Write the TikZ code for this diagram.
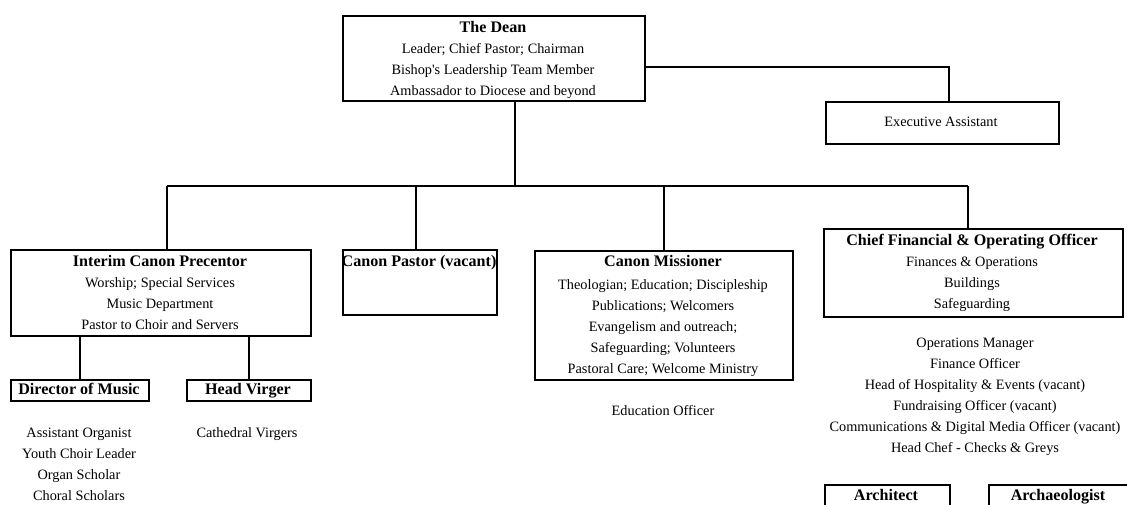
\documentclass[tikz,border=0pt]{standalone}
\usepackage{fontspec}
\setmainfont{Liberation Serif}
\tikzset{
  box/.style={draw=black, line width=1.8pt, inner sep=0pt, anchor=north west},
  conn/.style={draw=black, line width=1.5pt},
  txt/.style={inner sep=0pt, anchor=base, font=\fontsize{14.3}{16}\selectfont},
  ttl/.style={inner sep=0pt, anchor=base, font=\fontsize{16.1}{18}\selectfont\bfseries},
}
\begin{document}
\begin{tikzpicture}[x=1pt,y=-1pt]
\useasboundingbox (0,0) rectangle (1127,504);
\clip (0,0) rectangle (1127,504);
% boxes
\node[box, minimum width=302pt, minimum height=85pt] (dean) at (342,15) {};
\node[box, minimum width=233pt, minimum height=42pt] (exec) at (825,101) {};
\node[box, minimum width=300pt, minimum height=86pt] (prec) at (10,249) {};
\node[box, minimum width=154pt, minimum height=65pt] (pastor) at (342,249) {};
\node[box, minimum width=258pt, minimum height=129pt] (miss) at (534,250) {};
\node[box, minimum width=299pt, minimum height=88pt] (cfo) at (823,228) {};
\node[box, minimum width=138pt, minimum height=21pt] (dom) at (10,379) {};
\node[box, minimum width=124pt, minimum height=21pt] (hv) at (186,379) {};
\node[box, minimum width=125pt, minimum height=40pt] (arch) at (824,484) {};
\node[box, minimum width=140pt, minimum height=40pt] (archaeo) at (988,484) {};
% connectors
\coordinate (busL) at (167,186);
\coordinate (busR) at (968,186);
\coordinate (deanR) at (644,67);
\coordinate (deanB) at (515,100);
\draw[conn] (deanB) -- (deanB |- busL);
\draw[conn] (busL) -- (busR);
\draw[conn] (busL) -- (busL |- prec.north);
\draw[conn] (416,186) -- (416,249);
\draw[conn] (miss.north) -- (miss.north |- busL);
\draw[conn] (busR) -- (busR |- cfo.north);
\draw[conn] (deanR) -| (949,101);
\draw[conn] (dom.north |- prec.south) -- (dom.north);
\draw[conn] (hv.north |- prec.south) -- (hv.north);
% texts
\node[ttl] (deant) at (493,32) {The Dean};
\foreach \t [count=\i] in {Leader; Chief Pastor; Chairman, Bishop\textquotesingle s Leadership Team Member, Ambassador to Diocese and beyond}
  \node[txt] (dean-\i) at (493,32+21*\i) {\t};
\node[txt] (exect) at (941,126) {Executive Assistant};
\node[ttl] (prect) at (160,266) {Interim Canon Precentor};
\foreach \t [count=\i] in {Worship; Special Services, Music Department, Pastor to Choir and Servers}
  \node[txt] (prec-\i) at (160,266+21*\i) {\t};
\node[ttl] (pastort) at (419,266) {Canon Pastor (vacant)};
\node[ttl] (misst) at (663,266) {Canon Missioner};
\foreach \t [count=\i] in {Theologian; Education; Discipleship, Publications; Welcomers, Evangelism and outreach;, Safeguarding; Volunteers, Pastoral Care; Welcome Ministry}
  \node[txt] (miss-\i) at (663,268+21*\i) {\t};
\node[ttl] (cfot) at (972,245) {Chief Financial \& Operating Officer};
\foreach \t [count=\i] in {Finances \& Operations, Buildings, Safeguarding}
  \node[txt] (cfo-\i) at (972,245+21*\i) {\t};
\foreach \t [count=\i] in {Operations Manager, Finance Officer, Head of Hospitality \& Events (vacant), Fundraising Officer (vacant), Communications \& Digital Media Officer (vacant), Head Chef - Checks \& Greys}
  \node[txt] (ops-\i) at (975,326+21*\i) {\t};
\node[txt] (edu) at (663,415) {Education Officer};
\node[ttl] (domt) at (79,394) {Director of Music};
\node[ttl] (hvt) at (248,394) {Head Virger};
\foreach \t [count=\i] in {Assistant Organist, Youth Choir Leader, Organ Scholar, Choral Scholars}
  \node[txt] (music-\i) at (79,416+21*\i) {\t};
\node[txt] (virgers) at (247,437) {Cathedral Virgers};
\node[ttl] (archt) at (886,500) {Architect};
\node[ttl] (archaeot) at (1058,500) {Archaeologist};
\end{tikzpicture}
\end{document}
